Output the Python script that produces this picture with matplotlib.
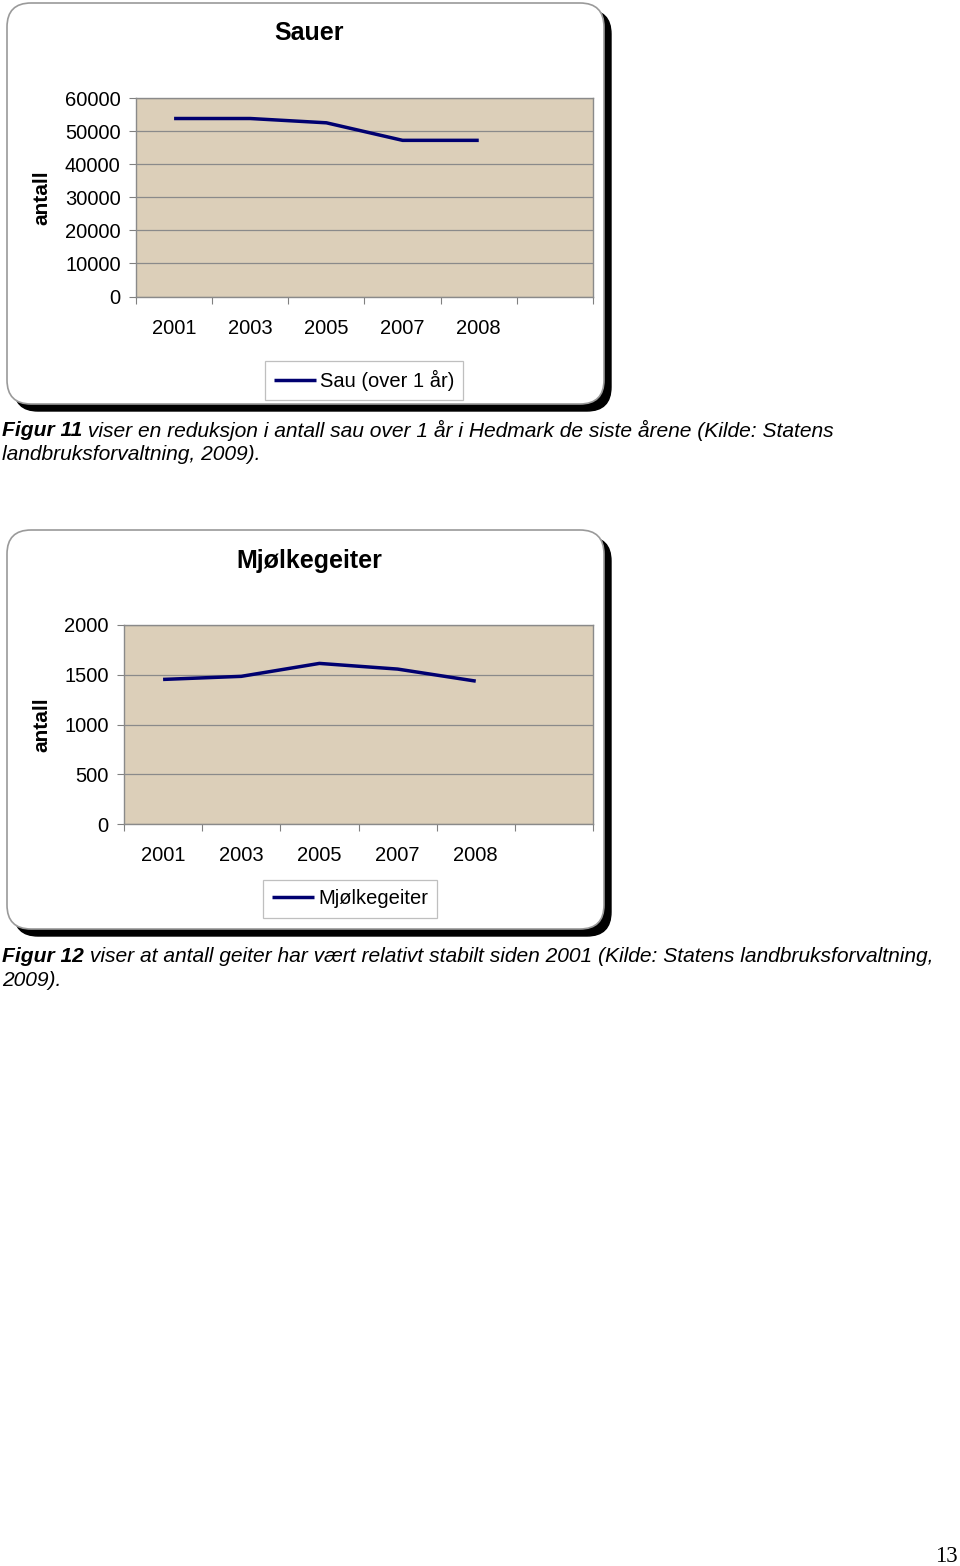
import matplotlib
matplotlib.use('Agg')
import matplotlib.pyplot as plt
from matplotlib.patches import FancyBboxPatch

plt.rcParams['font.family'] = ['Liberation Sans', 'DejaVu Sans']

# data
years = ['2001', '2003', '2005', '2007', '2008']
sau = [53800, 53800, 52500, 47200, 47200]
geit = [1453, 1484, 1614, 1557, 1436]
sau_ticks = [0, 10000, 20000, 30000, 40000, 50000, 60000]
geit_ticks = [0, 500, 1000, 1500, 2000]

W, H = 960, 1566
fig = plt.figure(figsize=(W / 100, H / 100), dpi=100)

# overlay in pixel coords for boxes and text
bg = fig.add_axes([0, 0, 1, 1])
bg.set_xlim(0, W)
bg.set_ylim(H, 0)
bg.axis('off')


def boks(x0, y0, x1, y1):
    # black shadow right/bottom, then white box with thin grey edge
    sh = FancyBboxPatch((x0 + 7, y0 + 7), x1 - x0 - 7, y1 - y0 - 7,
                        boxstyle='round,pad=0,rounding_size=24',
                        fc='black', ec='black', lw=1, zorder=1)
    bx = FancyBboxPatch((x0, y0), x1 - x0 - 7, y1 - y0 - 7,
                        boxstyle='round,pad=0,rounding_size=24',
                        fc='white', ec='#9a9a9a', lw=1.2, zorder=2)
    bg.add_patch(sh)
    bg.add_patch(bx)


boks(7, 3, 611, 411)
boks(7, 530, 611, 936)


def px(l, t, r, b):
    return [l / W, 1 - b / H, (r - l) / W, (b - t) / H]


def diagram(rect, verdier, yticks, tittel, navn, tittel_y, leg_xy):
    ax = fig.add_axes(px(*rect))
    ax.set_facecolor('#dccfb9')
    x = list(range(len(years)))
    ax.plot(x, verdier, color='#000070', lw=2.5, solid_capstyle='butt',
            label=navn, zorder=3)
    ax.set_xlim(-0.5, 5.5)
    ax.set_ylim(yticks[0], yticks[-1])
    ax.set_yticks(yticks)
    ax.set_yticklabels([str(v) for v in yticks])
    ax.set_xticks([i - 0.5 for i in range(7)])
    ax.set_xticklabels([])
    ax.set_xticks(x, minor=True)
    ax.set_xticklabels(years, minor=True)
    ax.tick_params(axis='x', which='minor', length=0, pad=16, labelsize=14.5)
    ax.tick_params(axis='x', which='major', length=5, color='#808080')
    ax.tick_params(axis='y', length=5, color='#808080', pad=6, labelsize=14.5)
    ax.grid(axis='y', color='#8a8a8a', lw=0.9)
    ax.set_axisbelow(True)
    for s in ax.spines.values():
        s.set_color('#8a8a8a')
        s.set_linewidth(1.0)
    bg.text(309, tittel_y, tittel, fontsize=18, fontweight='bold',
            ha='center', va='center', zorder=5)
    bg.text(42, (rect[1] + rect[3]) / 2, 'antall', fontsize=15,
            fontweight='bold', rotation=90, ha='center', va='center', zorder=5)
    leg = fig.legend(loc='center', bbox_to_anchor=(leg_xy[0] / W, 1 - leg_xy[1] / H),
                     handles=ax.get_lines(), fontsize=14.5, frameon=True,
                     fancybox=False, edgecolor='#b0b0b0', handlelength=2.1,
                     handletextpad=0.2, borderpad=0.45)
    leg.get_frame().set_linewidth(0.9)
    leg.set_zorder(6)
    return ax


diagram((136, 98, 593, 296.5), sau, sau_ticks, 'Sauer', 'Sau (over 1 år)', 33, (364, 380.5))
diagram((124, 625, 593, 824), geit, geit_ticks, 'Mjølkegeiter', 'Mjølkegeiter', 561, (350, 899))

# figure captions
fs = 15.15


def tekst(y, biter):
    x = 2
    r = fig.canvas.get_renderer()
    for s, bold in biter:
        t = bg.text(x, y, s, fontsize=fs, style='italic',
                    fontweight='bold' if bold else 'normal', va='center', ha='left')
        bb = t.get_window_extent(renderer=r)
        x += bb.width


tekst(430, [('Figur 11', True),
            (' viser en reduksjon i antall sau over 1 år i Hedmark de siste årene (Kilde: Statens', False)])
tekst(454, [('landbruksforvaltning, 2009).', False)])
tekst(957, [('Figur 12', True),
            (' viser at antall geiter har vært relativt stabilt siden 2001 (Kilde: Statens landbruksforvaltning,', False)])
tekst(981, [('2009).', False)])

bg.text(958, 1556, '13', fontsize=16.5, family='Liberation Serif',
        ha='right', va='center')

fig.savefig('out.png', dpi=100)
